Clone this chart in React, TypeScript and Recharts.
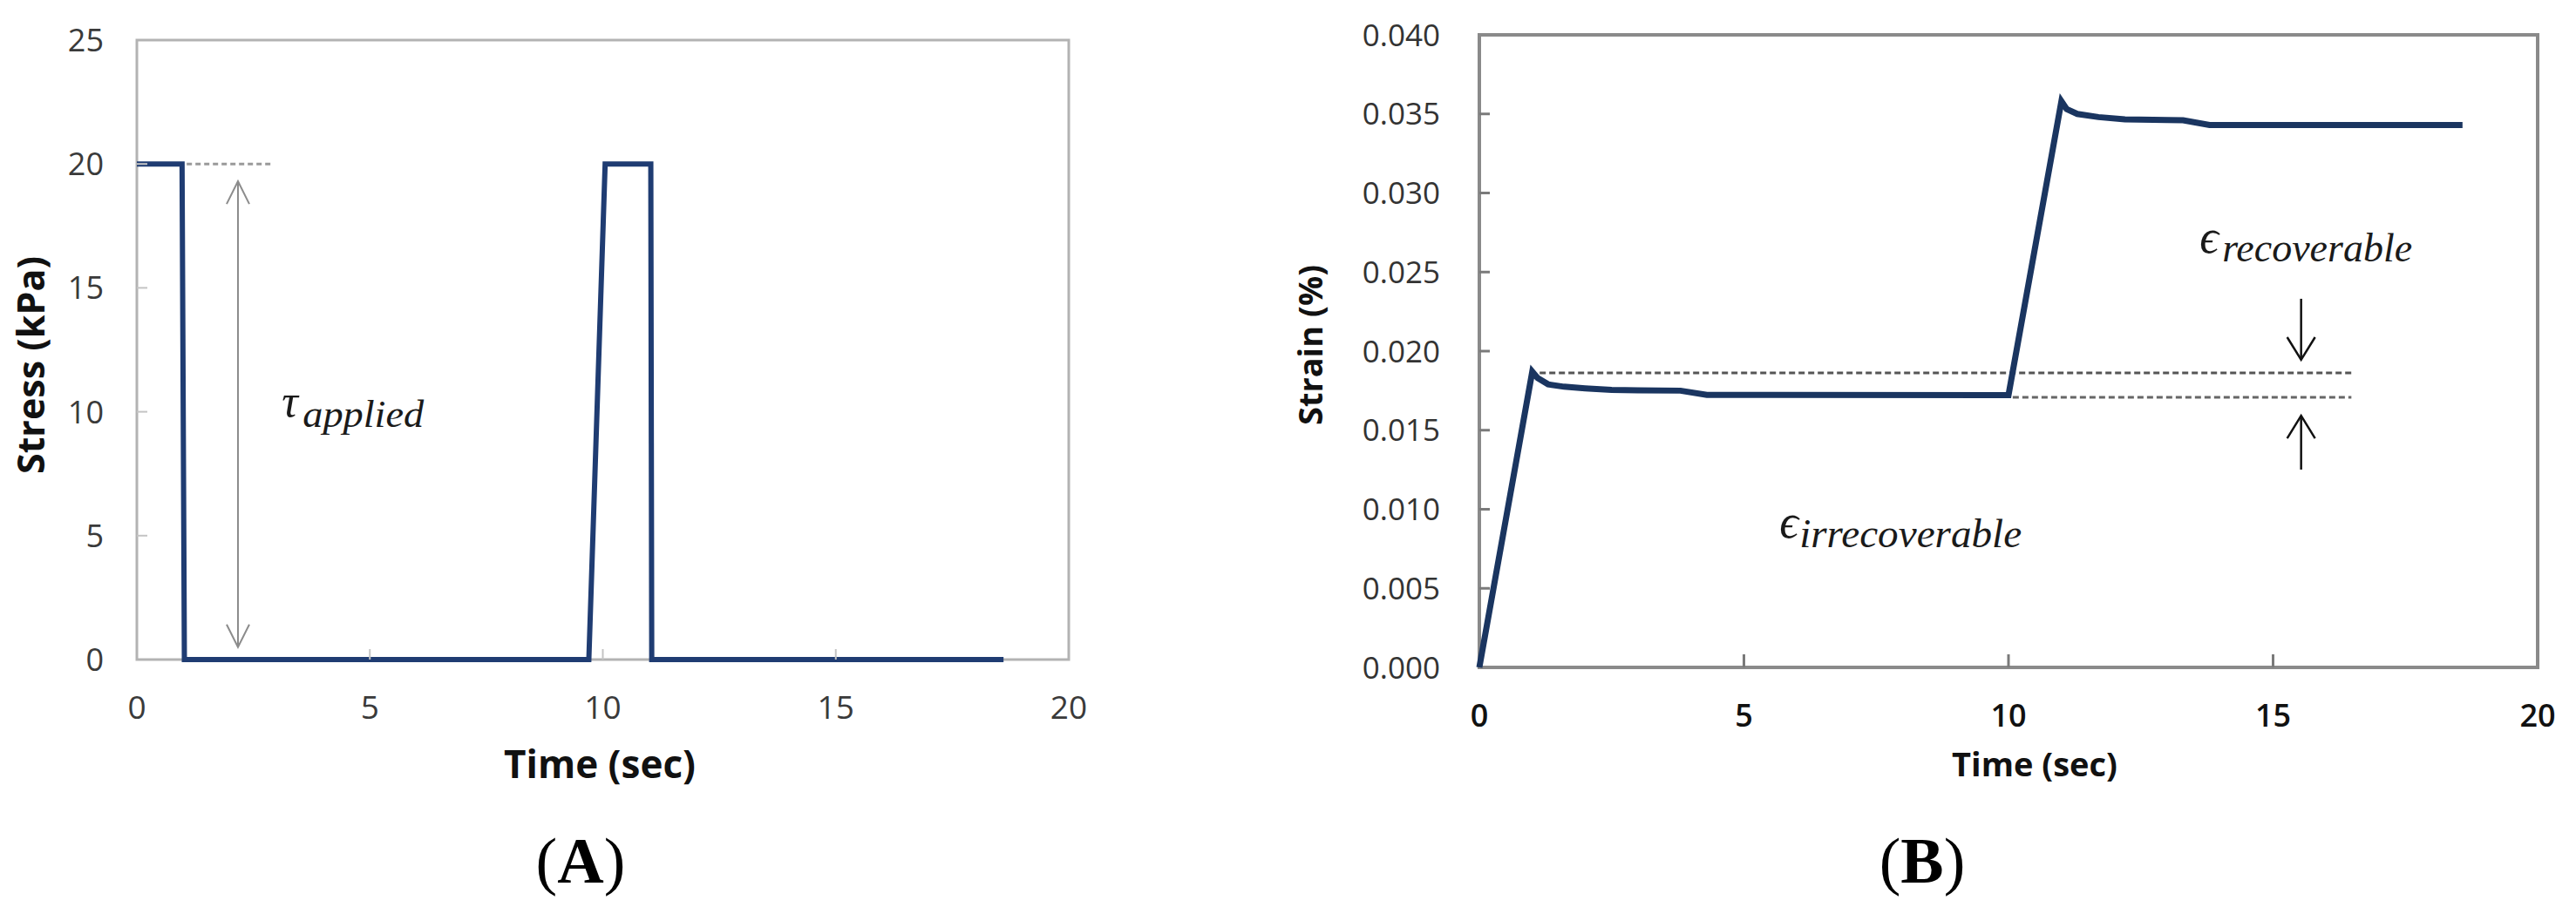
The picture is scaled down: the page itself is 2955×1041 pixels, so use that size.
import React from "react";
import {
  LineChart,
  Line,
  XAxis,
  YAxis,
  ReferenceArea,
  ReferenceLine,
  ReferenceDot,
} from "recharts";

// (A) applied stress history
const stressTime = [0, 0.97, 1.02, 9.7, 10.05, 11.03, 11.05, 18.6];
const stressKPa = [20, 20, 0, 0, 20, 20, 0, 0];

// (B) strain response
const strainTime = [
  0, 1.0, 1.1, 1.3, 1.6, 2.0, 2.5, 3.0, 3.8, 4.3, 10.0, 11.0, 11.1, 11.3, 11.7,
  12.2, 13.0, 13.3, 13.8, 18.58,
];
const strainPct = [
  0, 0.0187, 0.0183, 0.0179, 0.01775, 0.01765, 0.01755, 0.01752, 0.0175,
  0.01723, 0.01722, 0.0358, 0.0353, 0.035, 0.0348, 0.03465, 0.03462, 0.0346,
  0.0343, 0.0343,
];

const timeTicks = [0, 5, 10, 15, 20];
const stressTicks = [0, 5, 10, 15, 20, 25];
const strainTicks = [0, 0.005, 0.01, 0.015, 0.02, 0.025, 0.03, 0.035, 0.04];

// annotations (data units)
const appliedGuide = { y: 20, from: 1.07, to: 2.94 };
const appliedArrow = { t: 2.17, top: 19.3, bottom: 0.5 };
const tauLabel = { t: 3.11, y: 9.81 };
const peakGuide = { y: 0.01862, from: 1.14, to: 16.48 };
const residualGuide = { y: 0.01708, from: 10.08, to: 16.48 };
const downArrow = { t: 15.53, from: 0.02331, to: 0.01945 };
const upArrow = { t: 15.53, from: 0.01251, to: 0.01592 };
const irrLabel = { t: 5.67, y: 0.00821 };
const recLabel = { t: 13.61, y: 0.02623 };

const stressData = stressTime.map((t, i) => ({ t, stress: stressKPa[i] }));
const strainData = strainTime.map((t, i) => ({ t, strain: strainPct[i] }));

const SANS = "'Open Sans', 'Noto Sans', sans-serif";
const SERIF = "'Liberation Serif', 'DejaVu Serif', serif";

function xTick(opts: any) {
  return (p: any) => {
    const v = p.payload.value;
    const edge = v === opts.min || v === opts.max;
    return (
      <g>
        {!edge && (
          <line x1={p.x} x2={p.x} y1={p.y} y2={p.y - opts.len} stroke={opts.tickColor} strokeWidth={opts.tickW} />
        )}
        <text
          x={p.x}
          y={p.y + opts.gap}
          dy="0.36em"
          textAnchor="middle"
          fontFamily={SANS}
          fontSize={opts.size}
          fontWeight={opts.weight || 400}
          fill={opts.color}
        >
          {opts.fmt ? opts.fmt(v) : v}
        </text>
      </g>
    );
  };
}

function yTick(opts: any) {
  return (p: any) => {
    const v = p.payload.value;
    const edge = v === opts.min || v === opts.max;
    return (
      <g>
        {!edge && (
          <line x1={p.x} x2={p.x + opts.len} y1={p.y} y2={p.y} stroke={opts.tickColor} strokeWidth={opts.tickW} />
        )}
        <text
          x={p.x - opts.gap}
          y={p.y}
          dy="0.36em"
          textAnchor="end"
          fontFamily={SANS}
          fontSize={opts.size}
          fill={opts.color}
        >
          {opts.fmt ? opts.fmt(v) : v}
        </text>
      </g>
    );
  };
}

function arrowShape(color: string, w: number, l: number, hw: number, both: boolean) {
  return (p: any) => {
    const { x1, y1, x2, y2 } = p;
    const L = Math.hypot(x2 - x1, y2 - y1) || 1;
    const ux = (x2 - x1) / L;
    const uy = (y2 - y1) / L;
    const head = (tx: number, ty: number, sx: number, sy: number) => {
      const px = -sy;
      const py = sx;
      return `M${tx - sx * l + px * hw},${ty - sy * l + py * hw} L${tx},${ty} L${tx - sx * l - px * hw},${ty - sy * l - py * hw}`;
    };
    return (
      <g fill="none" stroke={color} strokeWidth={w} strokeLinejoin="miter">
        <line x1={x1} y1={y1} x2={x2} y2={y2} />
        <path d={head(x2, y2, ux, uy)} />
        {both && <path d={head(x1, y1, -ux, -uy)} />}
      </g>
    );
  };
}

function mathLabel(sym: string, sub: string, o: any) {
  return (p: any) => (
    <g fontFamily={SERIF} fontStyle="italic" fill="#1a1a1a">
      <text x={p.cx} y={p.cy} fontSize={o.symSize}>
        {sym}
      </text>
      <text
        x={p.cx + o.dx}
        y={p.cy + o.dy}
        fontSize={o.subSize}
        textLength={o.subW}
        lengthAdjust="spacingAndGlyphs"
      >
        {sub}
      </text>
    </g>
  );
}

export default function App() {
  return (
    <div style={{ position: "absolute", left: 0, top: 0, width: 2955, height: 1041, background: "#fff" }}>
      {/* panel A */}
      <div style={{ position: "absolute", left: 0, top: 0 }}>
        <LineChart width={1300} height={1041} data={stressData} margin={{ top: 46, right: 74, bottom: 184, left: 0 }}>
          <XAxis
            dataKey="t"
            type="number"
            domain={[0, 20]}
            ticks={timeTicks}
            interval={0}
            height={100}
            tickSize={0}
            tickMargin={0}
            axisLine={false}
            tick={xTick({ min: 0, max: 20, len: 12, tickColor: "#c4c4c4", tickW: 2, gap: 55, size: 37, color: "#3a3a3a" })}
          />
          <YAxis
            type="number"
            domain={[0, 25]}
            ticks={stressTicks}
            interval={0}
            width={157}
            tickSize={0}
            tickMargin={0}
            axisLine={false}
            tick={yTick({ min: 0, max: 25, len: 12, tickColor: "#c4c4c4", tickW: 2, gap: 38, size: 36, color: "#3a3a3a" })}
          />
          <ReferenceArea x1={0} x2={20} y1={0} y2={25} fill="none" stroke="#b3b3b3" strokeWidth={3} ifOverflow="visible" />
          <ReferenceLine
            segment={[
              { x: appliedGuide.from, y: appliedGuide.y },
              { x: appliedGuide.to, y: appliedGuide.y },
            ]}
            stroke="#9a9a9a"
            strokeWidth={3}
            strokeDasharray="6 4"
          />
          <ReferenceLine
            segment={[
              { x: appliedArrow.t, y: appliedArrow.top },
              { x: appliedArrow.t, y: appliedArrow.bottom },
            ]}
            shape={arrowShape("#8c8c8c", 2, 26, 13, true)}
          />
          <ReferenceDot
            x={tauLabel.t}
            y={tauLabel.y}
            r={0}
            shape={mathLabel("τ", "applied", { symSize: 52, subSize: 44, dx: 24, dy: 12, subW: 139 })}
          />
          <Line
            dataKey="stress"
            type="linear"
            stroke="#1f3c72"
            strokeWidth={6}
            dot={false}
            activeDot={false}
            isAnimationActive={false}
          />
        </LineChart>
      </div>

      {/* panel B */}
      <div style={{ position: "absolute", left: 1400, top: 0 }}>
        <LineChart width={1555} height={1041} data={strainData} margin={{ top: 40, right: 44, bottom: 175, left: 0 }}>
          <XAxis
            dataKey="t"
            type="number"
            domain={[0, 20]}
            ticks={timeTicks}
            interval={0}
            height={100}
            tickSize={0}
            tickMargin={0}
            axisLine={false}
            tick={xTick({ min: 0, max: 20, len: 15, tickColor: "#7a7a7a", tickW: 3, gap: 55, size: 36, weight: 600, color: "#111" })}
          />
          <YAxis
            type="number"
            domain={[0, 0.04]}
            ticks={strainTicks}
            interval={0}
            width={297}
            tickSize={0}
            tickMargin={0}
            axisLine={false}
            tick={yTick({
              min: 0,
              max: 0.04,
              len: 12,
              tickColor: "#7a7a7a",
              tickW: 3,
              gap: 45,
              size: 35,
              color: "#333",
              fmt: (v: number) => v.toFixed(3),
            })}
          />
          <ReferenceArea x1={0} x2={20} y1={0} y2={0.04} fill="none" stroke="#8a8a8a" strokeWidth={4} ifOverflow="visible" />
          <ReferenceLine
            segment={[
              { x: peakGuide.from, y: peakGuide.y },
              { x: peakGuide.to, y: peakGuide.y },
            ]}
            stroke="#555"
            strokeWidth={3}
            strokeDasharray="7 4"
          />
          <ReferenceLine
            segment={[
              { x: residualGuide.from, y: residualGuide.y },
              { x: residualGuide.to, y: residualGuide.y },
            ]}
            stroke="#666"
            strokeWidth={3}
            strokeDasharray="7 4"
          />
          <ReferenceLine
            segment={[
              { x: downArrow.t, y: downArrow.from },
              { x: downArrow.t, y: downArrow.to },
            ]}
            shape={arrowShape("#111", 2.5, 26, 16, false)}
          />
          <ReferenceLine
            segment={[
              { x: upArrow.t, y: upArrow.from },
              { x: upArrow.t, y: upArrow.to },
            ]}
            shape={arrowShape("#111", 2.5, 26, 16, false)}
          />
          <ReferenceDot
            x={irrLabel.t}
            y={irrLabel.y}
            r={0}
            shape={mathLabel("ϵ", "irrecoverable", { symSize: 54, subSize: 46, dx: 23, dy: 11, subW: 255 })}
          />
          <ReferenceDot
            x={recLabel.t}
            y={recLabel.y}
            r={0}
            shape={mathLabel("ϵ", "recoverable", { symSize: 54, subSize: 46, dx: 26, dy: 10, subW: 218 })}
          />
          <Line
            dataKey="strain"
            type="linear"
            stroke="#1a3560"
            strokeWidth={7}
            dot={false}
            activeDot={false}
            isAnimationActive={false}
          />
        </LineChart>
      </div>

      {/* axis titles and panel letters */}
      <svg width={2955} height={1041} style={{ position: "absolute", left: 0, top: 0, pointerEvents: "none" }}>
        <g fontFamily={SANS} fontWeight={700} fill="#111">
          <text x={688} y={893} fontSize={44} textAnchor="middle">
            Time (sec)
          </text>
          <text transform="translate(51,419) rotate(-90)" fontSize={43} textAnchor="middle">
            Stress (kPa)
          </text>
          <text x={2334} y={891} fontSize={38} textAnchor="middle">
            Time (sec)
          </text>
          <text transform="translate(1517,396) rotate(-90)" fontSize={38} textAnchor="middle">
            Strain (%)
          </text>
        </g>
        <g fontFamily={SERIF} fontSize={74} fill="#000">
          <text x={666} y={1013} textAnchor="middle">
            (<tspan fontWeight={700}>A</tspan>)
          </text>
          <text x={2205} y={1013} textAnchor="middle">
            (<tspan fontWeight={700}>B</tspan>)
          </text>
        </g>
      </svg>
    </div>
  );
}
